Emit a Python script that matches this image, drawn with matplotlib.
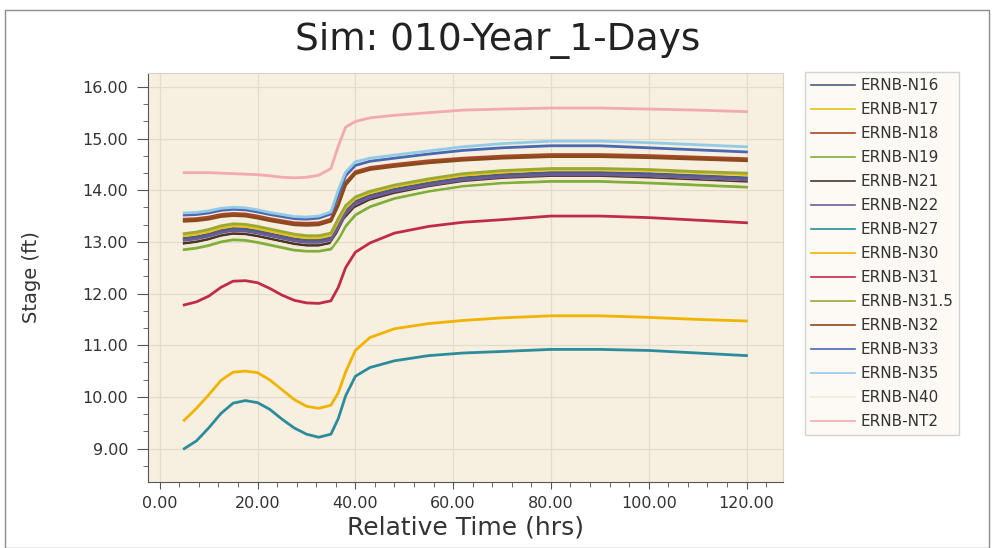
import matplotlib
matplotlib.use("Agg")
from matplotlib import pyplot as plt
from matplotlib.patches import Rectangle
from matplotlib.ticker import MultipleLocator, AutoMinorLocator, FormatStrFormatter

# relative time (hrs)
hours = [5, 7.5, 10, 12.5, 15, 17.5, 20, 22.5, 25, 27.5, 30, 32.5, 35, 36.5, 38, 40,
         43, 48, 55, 62, 70, 80, 90, 100, 110, 120]

names = ["ERNB-N16", "ERNB-N17", "ERNB-N18", "ERNB-N19", "ERNB-N21", "ERNB-N22", "ERNB-N27",
         "ERNB-N30", "ERNB-N31", "ERNB-N31.5", "ERNB-N32", "ERNB-N33", "ERNB-N35", "ERNB-N40",
         "ERNB-NT2"]

# stage (ft) per node
n16 = [13.07, 13.10, 13.15, 13.22, 13.26, 13.25, 13.21, 13.16, 13.11, 13.06, 13.03, 13.03, 13.08, 13.33, 13.60, 13.78,
       13.90, 14.02, 14.14, 14.24, 14.30, 14.34, 14.34, 14.32, 14.28, 14.24]
n17 = [13.12, 13.15, 13.20, 13.27, 13.31, 13.30, 13.26, 13.21, 13.16, 13.11, 13.08, 13.08, 13.13, 13.40, 13.66, 13.84,
       13.95, 14.07, 14.19, 14.29, 14.35, 14.40, 14.40, 14.38, 14.34, 14.30]
n18 = [13.44, 13.45, 13.48, 13.53, 13.55, 13.54, 13.50, 13.45, 13.41, 13.37, 13.36, 13.37, 13.44, 13.75, 14.15, 14.36,
       14.44, 14.50, 14.57, 14.62, 14.66, 14.69, 14.69, 14.67, 14.64, 14.61]
n19 = [12.85, 12.88, 12.93, 13.00, 13.04, 13.03, 12.99, 12.94, 12.89, 12.84, 12.82, 12.82, 12.86, 13.05, 13.30, 13.52,
       13.68, 13.84, 13.98, 14.08, 14.14, 14.17, 14.17, 14.14, 14.10, 14.06]
n21 = [12.97, 13.00, 13.05, 13.12, 13.16, 13.15, 13.11, 13.06, 13.01, 12.96, 12.93, 12.93, 12.98, 13.20, 13.48, 13.68,
       13.81, 13.94, 14.06, 14.16, 14.22, 14.26, 14.26, 14.23, 14.19, 14.15]
n22 = [13.03, 13.06, 13.11, 13.18, 13.22, 13.21, 13.17, 13.12, 13.07, 13.02, 12.99, 12.99, 13.04, 13.28, 13.55, 13.74,
       13.86, 13.98, 14.10, 14.20, 14.26, 14.30, 14.30, 14.28, 14.24, 14.20]
n27 = [9.00, 9.15, 9.40, 9.68, 9.88, 9.93, 9.89, 9.76, 9.57, 9.40, 9.28, 9.22, 9.28, 9.58, 10.02, 10.40,
       10.57, 10.70, 10.80, 10.85, 10.88, 10.92, 10.92, 10.90, 10.85, 10.80]
n30 = [9.55, 9.78, 10.04, 10.32, 10.48, 10.50, 10.47, 10.33, 10.14, 9.95, 9.82, 9.78, 9.84, 10.08, 10.48, 10.90,
       11.15, 11.32, 11.42, 11.48, 11.53, 11.57, 11.57, 11.54, 11.50, 11.47]
n31 = [11.78, 11.84, 11.95, 12.12, 12.24, 12.25, 12.21, 12.10, 11.97, 11.87, 11.82, 11.81, 11.86, 12.12, 12.50, 12.80,
       12.98, 13.17, 13.30, 13.38, 13.43, 13.50, 13.50, 13.47, 13.42, 13.37]
n31_5 = [13.16, 13.19, 13.24, 13.31, 13.35, 13.34, 13.30, 13.25, 13.20, 13.15, 13.12, 13.12, 13.17, 13.45, 13.70, 13.87,
         13.98, 14.10, 14.22, 14.32, 14.38, 14.42, 14.42, 14.40, 14.36, 14.33]
n32 = [13.40, 13.41, 13.44, 13.49, 13.51, 13.50, 13.46, 13.41, 13.37, 13.33, 13.32, 13.33, 13.40, 13.70, 14.10, 14.32,
       14.40, 14.46, 14.53, 14.58, 14.62, 14.65, 14.65, 14.63, 14.60, 14.57]
n33 = [13.52, 13.53, 13.56, 13.61, 13.63, 13.62, 13.58, 13.53, 13.49, 13.45, 13.44, 13.46, 13.54, 13.90, 14.28, 14.48,
       14.56, 14.62, 14.70, 14.77, 14.82, 14.86, 14.86, 14.82, 14.78, 14.74]
n35 = [13.56, 13.57, 13.60, 13.65, 13.67, 13.66, 13.62, 13.57, 13.53, 13.49, 13.48, 13.50, 13.58, 14.00, 14.35, 14.55,
       14.62, 14.68, 14.76, 14.84, 14.90, 14.95, 14.95, 14.92, 14.88, 14.84]
n40 = [12.92, 12.95, 13.00, 13.07, 13.11, 13.10, 13.06, 13.01, 12.96, 12.91, 12.88, 12.88, 12.93, 13.14, 13.42, 13.63,
       13.77, 13.90, 14.03, 14.13, 14.19, 14.23, 14.23, 14.20, 14.16, 14.12]
nt2 = [14.34, 14.34, 14.34, 14.33, 14.32, 14.31, 14.30, 14.28, 14.25, 14.24, 14.25, 14.29, 14.42, 14.85, 15.22, 15.33,
       15.40, 15.45, 15.50, 15.55, 15.57, 15.59, 15.59, 15.57, 15.55, 15.52]

stages = [n16, n17, n18, n19, n21, n22, n27, n30, n31, n31_5, n32, n33, n35, n40, nt2]

colors = ["#4b5d82", "#e8c21a", "#a5482a", "#7fae3a", "#4a3628", "#6c5c96", "#2c8c9c",
          "#f0b400", "#c02c48", "#9aa834", "#8b4a1c", "#4a68b0", "#92cbe8", "#f4ead6",
          "#f2a9b2"]


def main():
    fig = plt.figure(figsize=(9.92, 5.48), dpi=100)
    fig.patch.set_facecolor("white")

    # thin frame around the whole picture
    fig.patches.append(Rectangle((0.005, 0.0), 0.992, 0.981, transform=fig.transFigure,
                                 fill=False, edgecolor="#8c8c8c", linewidth=1.0))

    ax = fig.add_axes([0.149, 0.120, 0.640, 0.747])
    ax.set_facecolor("#f7efdf")

    for name, vals, c in zip(names, stages, colors):
        ax.plot(hours, vals, color=c, linewidth=2.0, label=name, solid_joinstyle="round")

    ax.set_xlim(-2.45, 127.4)
    ax.set_ylim(8.35, 16.27)
    ax.xaxis.set_major_locator(MultipleLocator(20))
    ax.xaxis.set_minor_locator(AutoMinorLocator(5))
    ax.yaxis.set_major_locator(MultipleLocator(1))
    ax.yaxis.set_minor_locator(AutoMinorLocator(3))
    ax.xaxis.set_major_formatter(FormatStrFormatter("%.2f"))
    ax.yaxis.set_major_formatter(FormatStrFormatter("%.2f"))

    ax.grid(True, which="major", color="#e3dccd", linewidth=0.9)
    ax.set_axisbelow(True)

    for s in ["top", "right"]:
        ax.spines[s].set_color("#d9d4ca")
    for s in ["left", "bottom"]:
        ax.spines[s].set_color("#555555")

    ax.tick_params(which="major", color="#555555", labelsize=11.5, labelcolor="#333333")
    ax.tick_params(axis="y", which="major", length=8, pad=6)
    ax.tick_params(axis="x", which="major", length=5, pad=5)
    ax.tick_params(which="minor", length=3.5, color="#555555")

    ax.set_xlabel("Relative Time (hrs)", fontsize=18, color="#333333", labelpad=3)
    ax.set_ylabel("Stage (ft)", fontsize=14, color="#333333")
    ax.yaxis.set_label_coords(-0.168, 0.5)

    fig.text(0.502, 0.927, "Sim: 010-Year_1-Days", ha="center", va="center",
             fontsize=27, color="#222222")

    leg = fig.legend(loc="upper left", bbox_to_anchor=(0.811, 0.869), fontsize=11,
                     handlelength=2.9, labelspacing=0.59, borderpad=0.4, handletextpad=0.35,
                     borderaxespad=0.0, frameon=True, fancybox=False,
                     edgecolor="#c8c8c8", facecolor="#fdf9f3")
    leg.get_frame().set_linewidth(1.0)
    for line in leg.get_lines():
        line.set_linewidth(1.2)
    for t in leg.get_texts():
        t.set_color("#333333")

    fig.savefig("out.png", dpi=100)


if __name__ == "__main__":
    main()
